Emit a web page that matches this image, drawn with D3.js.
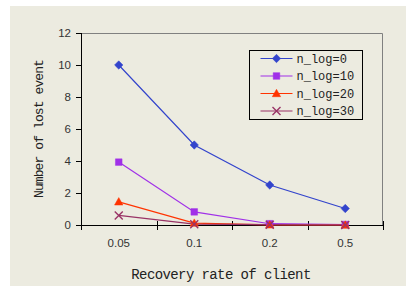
<!DOCTYPE html>
<html>
<head>
<meta charset="utf-8">
<script src="https://cdn.jsdelivr.net/npm/d3@7"></script>
<style>
  body { margin: 0; background: #fff; }
  svg { display: block; }
</style>
</head>
<body>
<div id="chart"></div>
<script>
// data
const categories = ["0.05", "0.1", "0.2", "0.5"];
const seriesNames = ["n_log=0", "n_log=10", "n_log=20", "n_log=30"];
const log0 = [10, 5, 2.5, 1.03];
const log10 = [3.93, 0.82, 0.08, 0.03];
const log20 = [1.45, 0.12, 0.01, 0];
const log30 = [0.6, 0.05, 0.02, 0];
const yTicks = [0, 2, 4, 6, 8, 10, 12];

const colors = ["#3344cc", "#a030e8", "#ff3300", "#993366"];

const W = 406, H = 286;
const margin = {top: 33, right: 23, bottom: 61, left: 81},
  width = W - margin.left - margin.right,
  height = H - margin.top - margin.bottom;

const svg = d3.select("#chart")
  .append("svg")
    .attr("width", W)
    .attr("height", H);

// beige chart area
svg.append("rect")
  .attr("x", 10).attr("y", 6)
  .attr("width", W - 10).attr("height", H - 6)
  .attr("fill", "#ecebe0");

const g = svg.append("g")
  .attr("transform", `translate(${margin.left}, ${margin.top})`);

const x = d3.scaleBand()
  .domain(categories)
  .range([0, width]);

const y = d3.scaleLinear()
  .domain([0, 12])
  .range([height, 0]);

// plot frame (top + right grey)
g.append("path")
  .attr("d", `M0,0.5H${width - 0.5}V${height}`)
  .attr("fill", "none")
  .attr("stroke", "#808080")
  .attr("stroke-width", 1);

// y axis
const yAxis = g.append("g")
  .call(d3.axisLeft(y).tickValues(yTicks).tickSize(5).tickPadding(5))
  .call(a => a.select(".domain").attr("d", `M0.5,0V${height}`));
yAxis.selectAll("text")
  .style("font-family", "Liberation Sans, Arial, sans-serif")
  .style("font-size", "11.5px")
  .attr("fill", "#333");
yAxis.selectAll("line, path").attr("stroke", "#000");

// x axis
const xAxis = g.append("g")
  .attr("transform", `translate(0, ${height})`)
  .call(d3.axisBottom(x).tickSize(0).tickPadding(14));
xAxis.select(".domain").attr("stroke", "#000").attr("d", `M0,0.5H${width}`);
xAxis.selectAll("text")
  .style("font-family", "Liberation Sans, Arial, sans-serif")
  .style("font-size", "11.5px")
  .attr("fill", "#333");
// tick marks at band boundaries, crossing the axis
const bounds = categories.map(c => x(c)).concat([width]);
xAxis.selectAll(".bound")
  .data(bounds)
  .enter()
  .append("line")
    .attr("class", "bound")
    .attr("x1", d => Math.round(d) + 0.5)
    .attr("x2", d => Math.round(d) + 0.5)
    .attr("y1", -4)
    .attr("y2", 5)
    .attr("stroke", "#000");

// markers
function markerPath(s) {
  if (s === 0) return "M0,-4.2L4.2,0L0,4.2L-4.2,0Z";
  if (s === 1) return "M-3.3,-3.3H3.3V3.3H-3.3Z";
  if (s === 2) return "M0,-4.2L4.2,3.2H-4.2Z";
  return "M-4,-4L4,4M-4,4L4,-4";
}

// series
const allSeries = [log0, log10, log20, log30];
const line = d3.line()
  .x((d, i) => x(categories[i]) + x.bandwidth() / 2)
  .y(d => y(d));

allSeries.forEach((vals, s) => {
  g.append("path")
    .datum(vals)
    .attr("fill", "none")
    .attr("stroke", colors[s])
    .attr("stroke-width", 1.2)
    .attr("d", line);
});
allSeries.forEach((vals, s) => {
  g.selectAll(".m" + s)
    .data(vals)
    .enter()
    .append("path")
      .attr("class", "m" + s)
      .attr("transform", (d, i) => `translate(${x(categories[i]) + x.bandwidth() / 2}, ${y(d)})`)
      .attr("d", markerPath(s))
      .attr("fill", s === 3 ? "none" : colors[s])
      .attr("stroke", colors[s])
      .attr("stroke-width", s === 3 ? 1.4 : 0.5);
});

// axis titles
svg.append("text")
  .attr("x", 221)
  .attr("y", 279)
  .attr("text-anchor", "middle")
  .style("font-family", "Liberation Mono, Courier New, monospace")
  .style("font-size", "14px")
  .style("letter-spacing", "-0.6px")
  .attr("fill", "#222")
  .text("Recovery rate of client");

svg.append("text")
  .attr("transform", "translate(43, 129) rotate(-90)")
  .attr("text-anchor", "middle")
  .style("font-family", "Liberation Mono, Courier New, monospace")
  .style("font-size", "13px")
  .style("letter-spacing", "-0.9px")
  .attr("fill", "#222")
  .text("Number of lost event");

// legend
const legend = svg.append("g").attr("transform", "translate(249.5, 50.5)");
legend.append("rect")
  .attr("width", 113)
  .attr("height", 69)
  .attr("fill", "#ecebe0")
  .attr("stroke", "#000");
seriesNames.forEach((name, s) => {
  const ly = 8 + s * 17.5;
  legend.append("line")
    .attr("x1", 11).attr("x2", 43)
    .attr("y1", ly).attr("y2", ly)
    .attr("stroke", colors[s])
    .attr("stroke-width", 1.2);
  legend.append("path")
    .attr("transform", `translate(27, ${ly})`)
    .attr("d", markerPath(s))
    .attr("fill", s === 3 ? "none" : colors[s])
    .attr("stroke", colors[s])
    .attr("stroke-width", s === 3 ? 1.4 : 0.5);
  legend.append("text")
    .attr("x", 47)
    .attr("y", ly + 4)
    .style("font-family", "Liberation Mono, Courier New, monospace")
    .style("font-size", "12px")
    .attr("fill", "#222")
    .text(name);
});
</script>
</body>
</html>
